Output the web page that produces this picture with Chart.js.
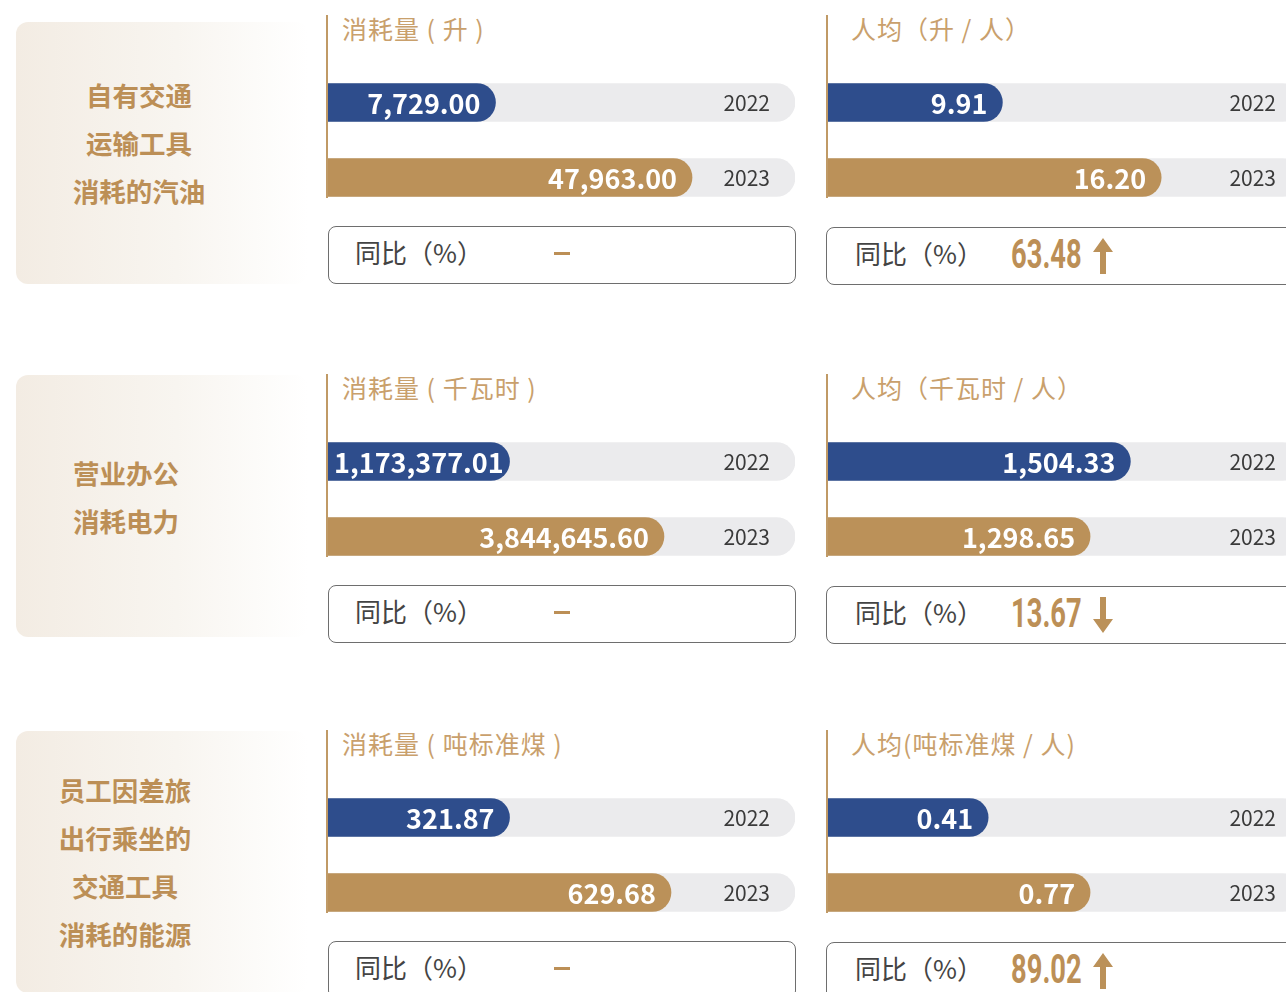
<!DOCTYPE html>
<html lang="zh">
<head>
    <meta charset="UTF-8">
    <title>能源消耗</title>
    <script src="https://cdn.jsdelivr.net/npm/chart.js"></script>
    <style>
        html, body { margin: 0; padding: 0; background: #fff; overflow: hidden; width: 1286px; height: 992px; }
        body { position: relative; font-family: "Noto Sans CJK SC", sans-serif; }
        .side {
            position: absolute; left: 16px; width: 292px; height: 262px;
            border-radius: 12px;
            background: linear-gradient(to right, #f3ece3 0%, #f8f5f0 55%, #ffffff 100%);
        }
        .side-text {
            position: absolute; width: 300px; text-align: center;
            color: #bc8f56; font-weight: bold; font-size: 26.5px; line-height: 48px;
        }
        .vline { position: absolute; width: 2px; background: #c09a66; z-index: 2; }
        .title { position: absolute; color: #c9a06c; font-size: 25px; line-height: 30px; letter-spacing: 1px; white-space: nowrap; }
        .bars { position: absolute; }
        .yoy {
            position: absolute; height: 58px; box-sizing: border-box;
            border: 1.5px solid #6e6e6e; border-radius: 8px; background: #fff;
        }
        .yoy-label { position: absolute; top: 7px; font-size: 26px; line-height: 36px; color: #444; white-space: nowrap; }
        .dash { position: absolute; top: 25px; width: 16px; height: 3px; background: #bc8f56; }
        .yoy-val {
            position: absolute; top: 7px; font-family: Roboto, "DejaVu Sans", sans-serif;
            font-weight: bold; font-size: 36px; line-height: 40px; color: #bc8f56;
            transform: scale(0.76, 1.12); transform-origin: left center; white-space: nowrap;
        }
        .arrow { position: absolute; top: 10px; }
    </style>
</head>
<body>
<script>
    // 年份
    const years = ['2022', '2023'];

    // 左侧分类
    const categories = [
        ['自有交通', '运输工具', '消耗的汽油'],
        ['营业办公', '消耗电力'],
        ['员工因差旅', '出行乘坐的', '交通工具', '消耗的能源']
    ];

    // 图表标题
    const totalTitles = ['消耗量 ( 升 )', '消耗量 ( 千瓦时 )', '消耗量 ( 吨标准煤 )'];
    const perTitles = ['人均（升 / 人）', '人均（千瓦时 / 人）', '人均(吨标准煤 / 人)'];

    // 消耗量
    const total2022 = ['7,729.00', '1,173,377.01', '321.87'];
    const total2023 = ['47,963.00', '3,844,645.60', '629.68'];
    // 人均
    const per2022 = ['9.91', '1,504.33', '0.41'];
    const per2023 = ['16.20', '1,298.65', '0.77'];

    // 条形长度（占底条百分比，按原图读取）
    const totalFill2022 = [36, 39, 39];
    const totalFill2023 = [78, 72, 73.5];
    const perFill2022 = [37, 64, 34];
    const perFill2023 = [70.5, 55.5, 55.5];

    // 同比（%）
    const yoyTotal = ['–', '–', '–'];
    const yoyPer = ['63.48', '13.67', '89.02'];
    const yoyDir = ['up', 'down', 'up'];

    const BLUE = '#2e4d8c';
    const TAN = '#bb9159';
    const TRACK = '#ebebed';

    const sectionTop = [0, 359, 715];
    const boxTop = [22, 375, 731];
    const sideCenterX = [139, 126, 125];
    const sideCenterY = [143, 497, 862];

    const barText = {
        id: 'barText',
        afterDatasetsDraw(chart, args, opts) {
            const ctx = chart.ctx;
            const meta = chart.getDatasetMeta(0);
            ctx.save();
            ctx.textBaseline = 'middle';
            ctx.textAlign = 'right';
            meta.data.forEach((bar, i) => {
                ctx.font = 'bold 27px "Noto Sans CJK SC"';
                ctx.fillStyle = '#fff';
                const w = ctx.measureText(opts.values[i]).width;
                const x = Math.max(bar.x - 15, bar.base + w + 7);
                ctx.fillText(opts.values[i], x, bar.y + 1);
                ctx.font = '21px "Noto Sans CJK SC"';
                ctx.fillStyle = '#3a3a3a';
                ctx.fillText(years[i], chart.chartArea.right - 25, bar.y + 1);
            });
            ctx.restore();
        }
    };

    function el(cls, css, html) {
        const d = document.createElement('div');
        d.className = cls;
        Object.assign(d.style, css);
        if (html !== undefined) d.innerHTML = html;
        document.body.appendChild(d);
        return d;
    }

    function arrowSvg(dir) {
        const up = '<svg width="22" height="36" viewBox="0 0 22 36"><polygon points="11,0 21,14 14,14 14,36 8,36 8,14 1,14" fill="' + TAN + '"/></svg>';
        const down = '<svg width="22" height="36" viewBox="0 0 22 36"><polygon points="11,36 21,22 14,22 14,0 8,0 8,22 1,22" fill="' + TAN + '"/></svg>';
        return dir === 'up' ? up : down;
    }

    function makeBars(left, top, width, values, fills) {
        const canvas = document.createElement('canvas');
        canvas.className = 'bars';
        canvas.width = width;
        canvas.height = 150;
        canvas.style.left = left + 'px';
        canvas.style.top = top + 'px';
        canvas.style.width = width + 'px';
        canvas.style.height = '150px';
        document.body.appendChild(canvas);

        new Chart(canvas.getContext('2d'), {
            type: 'bar',
            data: {
                labels: years,
                datasets: [{
                    data: fills,
                    backgroundColor: [BLUE, TAN],
                    barThickness: 38,
                    borderRadius: 19,
                    borderSkipped: 'start',
                    grouped: false,
                    order: 0
                }, {
                    data: [100, 100],
                    backgroundColor: TRACK,
                    barThickness: 38,
                    borderRadius: 19,
                    borderSkipped: 'start',
                    grouped: false,
                    order: 1
                }]
            },
            options: {
                indexAxis: 'y',
                responsive: false,
                animation: false,
                layout: { padding: 0 },
                plugins: {
                    legend: { display: false },
                    tooltip: { enabled: false },
                    barText: { values: values }
                },
                scales: {
                    x: { display: false, min: 0, max: 100 },
                    y: { display: false }
                }
            },
            plugins: [barText]
        });
    }

    categories.forEach((lines, s) => {
        const T = sectionTop[s];

        el('side', { top: boxTop[s] + 'px' });
        el('side-text', {
            left: (sideCenterX[s] - 150) + 'px',
            top: (sideCenterY[s] - lines.length * 24) + 'px'
        }, lines.join('<br>'));

        // 消耗量
        el('vline', { left: '326px', top: (T + 15) + 'px', height: '183px' });
        el('title', { left: '342px', top: (T + 13) + 'px' }, totalTitles[s]);
        makeBars(327, T + 65, 468, [total2022[s], total2023[s]], [totalFill2022[s], totalFill2023[s]]);
        const b1 = el('yoy', { left: '328px', top: (T + 226) + 'px', width: '468px' });
        b1.innerHTML = '<div class="yoy-label" style="left:26px">同比（%）</div>' +
            (yoyTotal[s] === '–' ? '<div class="dash" style="left:225px"></div>' : '');

        // 人均
        el('vline', { left: '826px', top: (T + 15) + 'px', height: '183px' });
        el('title', { left: '851px', top: (T + 13) + 'px' }, perTitles[s]);
        makeBars(827, T + 65, 474, [per2022[s], per2023[s]], [perFill2022[s], perFill2023[s]]);
        const b2 = el('yoy', { left: '826px', top: (T + 227) + 'px', width: '480px' });
        b2.innerHTML = '<div class="yoy-label" style="left:28px">同比（%）</div>' +
            '<div class="yoy-val" style="left:184px">' + yoyPer[s] + '</div>' +
            '<div class="arrow" style="left:265px">' + arrowSvg(yoyDir[s]) + '</div>';
    });
</script>
</body>
</html>
